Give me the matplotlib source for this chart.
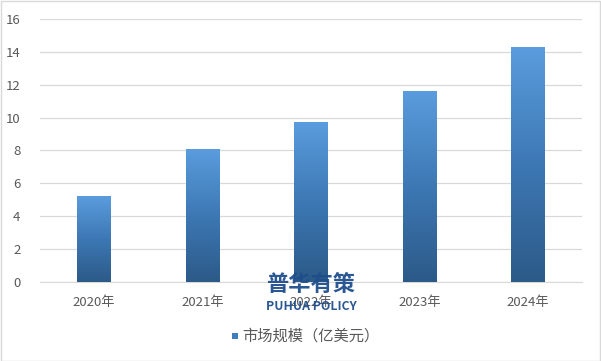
import numpy as np
import matplotlib
matplotlib.use("Agg")
import matplotlib.pyplot as plt
from matplotlib.colors import LinearSegmentedColormap
from matplotlib.patches import Rectangle

plt.rcParams['font.family'] = ['Noto Sans CJK SC', 'DejaVu Sans']

categories = ['2020年', '2021年', '2022年', '2023年', '2024年']
market_size = [5.2, 8.1, 9.7, 11.6, 14.3]
series_name = '市场规模（亿美元）'
y_ticks = [0, 2, 4, 6, 8, 10, 12, 14, 16]

fig = plt.figure(figsize=(6.01, 3.61), dpi=100)
ax = fig.add_axes([40 / 601, (361 - 281.7) / 361, 542 / 601, 262.7 / 361])

x = np.arange(len(categories))
bar_w = 0.31
bars = ax.bar(x, market_size, width=bar_w, color='none', edgecolor='none', zorder=3)

# vertical gradient fill, dark at the base and light at the top
grad_cmap = LinearSegmentedColormap.from_list('bar_grad', ['#2c5a88', '#3d78b4', '#5a9cdd'])
gradient = np.linspace(0, 1, 256).reshape(-1, 1)
for b in bars:
    x0, y0 = b.get_x(), b.get_y()
    w, h = b.get_width(), b.get_height()
    im = ax.imshow(gradient, cmap=grad_cmap, aspect='auto', origin='lower',
                   extent=[x0, x0 + w, y0, y0 + h], zorder=3)
    im.set_clip_path(b)

ax.set_xlim(-0.5, len(categories) - 0.5)
ax.set_ylim(0, 16)
ax.set_yticks(y_ticks)
ax.set_yticklabels([str(t) for t in y_ticks])
ax.set_xticks(x)
ax.set_xticklabels(categories)
ax.grid(axis='y', color='#d9d9d9', linewidth=0.9, zorder=0)
ax.set_axisbelow(True)
for s in ['top', 'right', 'left']:
    ax.spines[s].set_visible(False)
ax.spines['bottom'].set_color('#d9d9d9')
ax.tick_params(axis='both', length=0, labelsize=9.5, colors='#595959')
ax.tick_params(axis='x', pad=10)
ax.tick_params(axis='y', pad=14)

# legend entry
fig.patches.append(Rectangle((232 / 601, 1 - 339 / 361), 6 / 601, 6 / 361,
                             transform=fig.transFigure, facecolor='#3f7dbd',
                             edgecolor='none'))
fig.text(242 / 601, 1 - 336 / 361, series_name, fontsize=11, color='#595959',
         va='center', ha='left')

# brand watermark
fig.text(311 / 601, 1 - 284 / 361, '普华有策', fontsize=16, fontweight='bold',
         color='#1f4e8c', ha='center', va='center', alpha=0.95, zorder=5)
fig.text(311 / 601, 1 - 307 / 361, 'PUHUA POLICY', fontsize=8.8, fontweight='bold',
         color='#1f4e8c', ha='center', va='center', alpha=0.95, zorder=5)

# outer frame
fig.patches.append(Rectangle((0.5 / 601, 0.5 / 361), 599.5 / 601, 359.5 / 361,
                             transform=fig.transFigure, facecolor='none',
                             edgecolor='#d9d9d9', linewidth=1.0))

fig.savefig('out.png', dpi=100)
